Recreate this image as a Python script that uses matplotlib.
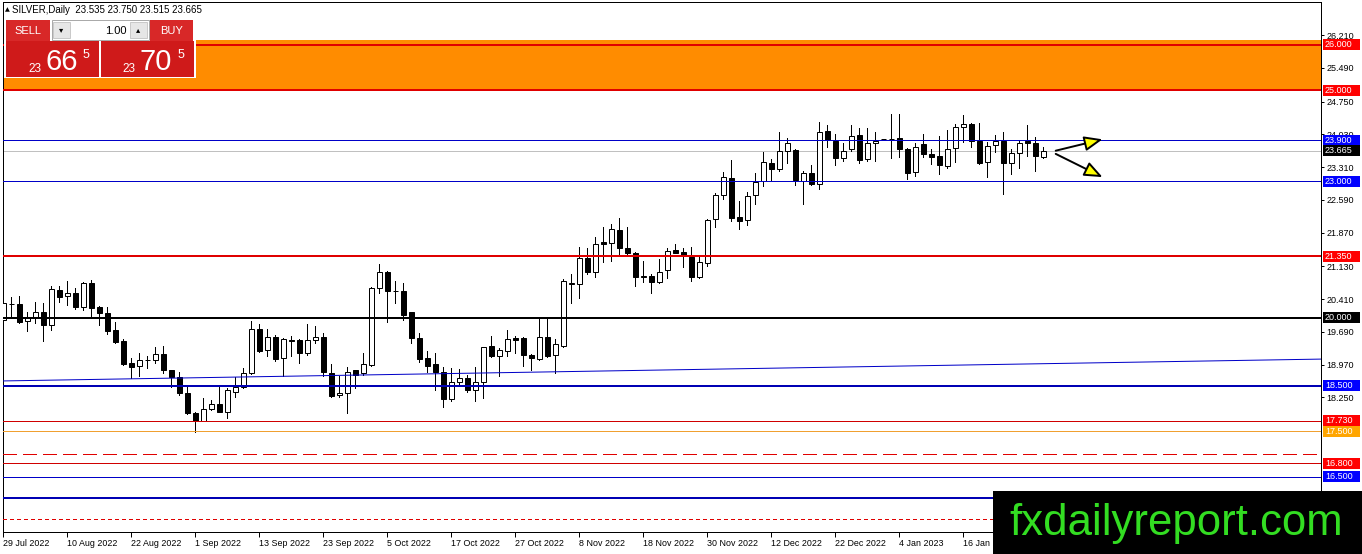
import matplotlib
matplotlib.use("Agg")
import matplotlib.pyplot as plt
from matplotlib.patches import Rectangle
from matplotlib import transforms
import numpy as np

plt.rcParams['font.family'] = ['Liberation Sans', 'DejaVu Sans']
plt.rcParams['lines.scale_dashes'] = False

# ---------------- data ----------------
opens = [19.95, 20.30, 20.30, 19.93, 20.02, 20.12, 19.85, 20.61, 20.48, 20.55,
         20.24, 20.76, 20.24, 20.10, 19.73, 19.49, 19.00, 18.94, 19.06, 19.07,
         19.20, 18.84, 18.70, 18.35, 17.91, 17.74, 17.99, 18.10, 17.93, 18.37,
         18.48, 18.79, 19.75, 19.29, 19.57, 19.11, 19.51, 19.51, 19.22, 19.51,
         19.57, 18.79, 18.29, 18.34, 18.84, 18.78, 18.96, 20.65, 21.01, 20.58,
         20.59, 20.12, 19.55, 19.11, 18.98, 18.81, 18.21, 18.59, 18.67, 18.41,
         18.59, 19.38, 19.16, 19.27, 19.55, 19.55, 19.18, 19.09, 19.57, 19.17,
         19.38, 20.75, 20.73, 21.31, 21.00, 21.66, 21.64, 21.93, 21.53, 21.42,
         20.90, 20.92, 20.79, 21.05, 21.49, 21.44, 21.34, 20.89, 21.20, 22.16,
         22.70, 23.06, 22.21, 22.15, 22.70, 23.00, 23.39, 23.26, 23.67, 23.69,
         23.01, 23.17, 22.93, 24.10, 23.89, 23.50, 23.70, 24.02, 23.48, 23.83,
         23.92, 23.92, 23.94, 23.70, 23.20, 23.82, 23.59, 23.55, 23.34, 23.72,
         24.20, 24.25, 23.88, 23.42, 23.80, 23.88, 23.39, 23.61, 23.89, 23.85,
         23.535]
highs = [20.40, 20.46, 20.48, 20.13, 20.35, 20.32, 20.70, 20.70, 20.81, 20.65,
         20.79, 20.83, 20.26, 20.24, 19.91, 19.53, 19.11, 19.23, 19.16, 19.36,
         19.38, 18.85, 18.81, 18.47, 17.93, 18.23, 18.19, 18.48, 18.45, 18.69,
         18.89, 19.93, 19.86, 19.75, 19.62, 19.55, 19.60, 19.53, 19.86, 19.81,
         19.67, 18.98, 18.72, 18.91, 18.85, 19.22, 20.67, 21.18, 21.03, 20.81,
         20.76, 20.13, 19.66, 19.27, 19.23, 18.91, 18.89, 18.87, 18.74, 18.92,
         19.36, 19.60, 19.33, 19.73, 19.60, 19.57, 19.20, 19.99, 19.99, 19.53,
         20.84, 20.96, 21.56, 21.54, 21.77, 21.99, 22.06, 22.18, 22.00, 21.44,
         21.25, 20.96, 21.28, 21.54, 21.62, 21.53, 21.56, 21.38, 22.16, 22.75,
         23.21, 23.47, 22.57, 22.77, 23.19, 23.65, 23.48, 24.09, 23.96, 23.70,
         23.22, 23.36, 24.31, 24.24, 24.04, 23.83, 24.24, 24.16, 24.16, 24.07,
         23.93, 24.48, 24.48, 23.72, 23.83, 24.04, 23.70, 23.99, 24.13, 24.26,
         24.46, 24.27, 24.27, 23.87, 24.02, 24.09, 23.71, 23.91, 24.24, 23.98,
         23.750]
lows = [19.75, 20.02, 19.88, 19.71, 19.88, 19.49, 19.73, 20.35, 20.28, 20.18,
        20.17, 20.00, 19.85, 19.64, 19.44, 18.96, 18.67, 18.72, 18.89, 19.01,
        18.79, 18.47, 18.29, 17.88, 17.49, 17.72, 17.97, 17.92, 17.79, 18.26,
        18.45, 18.76, 19.25, 19.16, 19.05, 18.72, 19.16, 19.01, 19.18, 19.45,
        18.72, 18.26, 18.26, 17.91, 18.45, 18.74, 18.94, 20.55, 19.91, 20.32,
        19.96, 19.45, 19.03, 18.80, 18.40, 18.03, 18.18, 18.52, 18.37, 18.18,
        18.23, 19.14, 18.72, 19.16, 19.23, 18.94, 18.84, 19.07, 19.14, 18.78,
        19.36, 20.33, 20.44, 20.96, 20.90, 21.23, 21.25, 21.38, 21.39, 20.70,
        20.79, 20.54, 20.76, 20.87, 21.42, 21.11, 20.81, 20.87, 21.14, 22.00,
        22.60, 22.13, 21.96, 22.04, 22.49, 22.90, 23.03, 23.22, 23.39, 22.92,
        22.49, 22.92, 22.82, 23.76, 23.36, 23.45, 23.67, 23.41, 23.45, 23.44,
        23.91, 23.50, 23.53, 23.05, 23.11, 23.53, 23.37, 23.16, 23.30, 23.43,
        23.87, 23.76, 23.38, 23.10, 23.65, 22.71, 23.16, 23.28, 23.55, 23.23,
        23.515]
closes = [20.32, 20.31, 19.91, 19.99, 20.12, 19.84, 20.62, 20.46, 20.54, 20.24,
          20.76, 20.21, 20.10, 19.71, 19.47, 18.98, 18.92, 19.07, 19.08, 19.20,
          18.84, 18.70, 18.35, 17.91, 17.74, 17.99, 18.10, 17.93, 18.40, 18.48,
          18.79, 19.75, 19.27, 19.57, 19.09, 19.53, 19.48, 19.22, 19.51, 19.57,
          18.81, 18.28, 18.34, 18.81, 18.74, 18.98, 20.65, 21.01, 20.59, 20.59,
          20.07, 19.55, 19.09, 18.94, 18.81, 18.21, 18.59, 18.67, 18.41, 18.59,
          19.35, 19.16, 19.29, 19.53, 19.51, 19.18, 19.11, 19.57, 19.16, 19.42,
          20.81, 20.77, 21.31, 21.00, 21.61, 21.63, 21.94, 21.53, 21.42, 20.90,
          20.91, 20.79, 21.01, 21.47, 21.43, 21.38, 20.89, 21.22, 22.15, 22.70,
          23.10, 22.20, 22.13, 22.68, 22.99, 23.42, 23.26, 23.67, 23.85, 23.03,
          23.17, 22.93, 24.07, 23.91, 23.50, 23.67, 23.99, 23.47, 23.83, 23.89,
          23.92, 23.93, 23.70, 23.17, 23.75, 23.59, 23.54, 23.35, 23.70, 24.20,
          24.25, 23.88, 23.41, 23.78, 23.88, 23.41, 23.61, 23.85, 23.85, 23.56,
          23.665]

date_labels = ['29 Jul 2022', '10 Aug 2022', '22 Aug 2022', '1 Sep 2022', '13 Sep 2022',
               '23 Sep 2022', '5 Oct 2022', '17 Oct 2022', '27 Oct 2022', '8 Nov 2022',
               '18 Nov 2022', '30 Nov 2022', '12 Dec 2022', '22 Dec 2022', '4 Jan 2023',
               '16 Jan 2023']
date_step = 8

price_ticks = [26.21, 25.49, 24.75, 24.03, 23.31, 22.59, 21.87, 21.13, 20.41, 19.69, 18.97, 18.25]

# labelled horizontal levels: value, line colour, line width (px), label colour
level_values = [26.0, 25.0, 23.9, 23.0, 21.35, 20.0, 18.5, 17.73, 17.5, 16.8, 16.5]
level_colors = ['#E00000', '#E00000', '#0000C8', '#0000C8', '#E00000', '#000000',
                '#0000B4', '#D00000', '#F0A030', '#D00000', '#0000C8']
level_widths = [2, 2, 1, 1, 2, 2, 2, 1, 1, 1, 1]
label_colors = ['#FF0000', '#FF0000', '#0000FF', '#0000FF', '#FF0000', '#000000',
                '#0000FF', '#FF0000', '#FFA500', '#FF0000', '#0000FF']
bid_price = 23.665

zone_low, zone_high = 25.0, 26.10
extra_solid = 16.04      # thick blue, unlabeled
extra_dashed = 17.0      # red long dashes
extra_dotted = 15.57     # red short dashes
trend_x = [0.0, 164.7]
trend_y = [18.61, 19.09]

arrow_start = [(131.55, 23.67), (131.55, 23.60)]
arrow_end = [(137.4, 23.92), (137.4, 23.09)]

# ---------------- figure ----------------
W, H = 1362, 554
fig = plt.figure(figsize=(W / 100, H / 100), dpi=100)
fig.patch.set_facecolor('white')

left_px, right_px, top_px, bot_px = 3, 1321, 2, 532
ax = fig.add_axes([left_px / W, 1 - bot_px / H, (right_px - left_px) / W, (bot_px - top_px) / H])
ax.set_facecolor('white')

n = len(opens)
x = np.arange(n)
ax.set_xlim(-0.0375, 164.71)
ax.set_ylim(15.29, 26.938)

PX = 0.72  # points per pixel

# zone
ax.axhspan(zone_low, zone_high, color='#FF8C00', zorder=1, lw=0)

# candles
o = np.array(opens); c = np.array(closes); h = np.array(highs); l = np.array(lows)
ax.vlines(x, l, h, color='black', lw=1 * PX, zorder=3, antialiased=False)
bull = c >= o
bw = 0.62
ax.bar(x[bull], (c - o)[bull], bottom=o[bull], width=bw, facecolor='white',
       edgecolor='black', lw=1 * PX, zorder=4)
ax.bar(x[~bull], (o - c)[~bull], bottom=c[~bull], width=bw, facecolor='black',
       edgecolor='black', lw=1 * PX, zorder=4)

# lines
for v, col, w in zip(level_values, level_colors, level_widths):
    ax.axhline(v, color=col, lw=w * PX, zorder=5, antialiased=False)
ax.axhline(bid_price, color='#C0C0C0', lw=1 * PX, zorder=2, antialiased=False)
ax.axhline(extra_solid, color='#0000B4', lw=2 * PX, zorder=5, antialiased=False)
ax.axhline(extra_dashed, color='#E00000', lw=1 * PX, zorder=5, dashes=(10, 5), antialiased=False)
ax.axhline(extra_dotted, color='#E00000', lw=1 * PX, zorder=5, dashes=(2.5, 2.5), antialiased=False)
ax.plot(trend_x, trend_y, color='#0000C8', lw=1 * PX, zorder=5)

# arrows
for s, e in zip(arrow_start, arrow_end):
    ax.annotate('', xy=e, xytext=s,
                arrowprops=dict(arrowstyle='-|>,head_length=1.1,head_width=0.45',
                                fc='#FFFF00', ec='black', lw=1.4, shrinkA=0, shrinkB=0),
                zorder=6)

# spines
for sp in ax.spines.values():
    sp.set_color('black')
    sp.set_linewidth(1 * PX)

# y axis on right
ax.yaxis.tick_right()
ax.set_yticks(price_ticks)
ax.set_yticklabels(['%.3f' % t for t in price_ticks])
ax.tick_params(axis='y', length=3 * PX, width=1 * PX, pad=2, labelsize=6.5, colors='black')

# x axis ticks
xt = [i * date_step for i in range(len(date_labels))]
ax.set_xticks(xt)
ax.set_xticklabels([''] * len(xt))
ax.tick_params(axis='x', length=5 * PX, width=1 * PX, direction='out')
tr = transforms.offset_copy(ax.get_xaxis_transform(), fig=fig, x=-0.5, y=-11, units='dots')
for pos, lab in zip(xt, date_labels):
    ax.text(pos, 0, lab, transform=tr, ha='left', va='center', fontsize=6.4, color='black')

# coloured price labels
ytr = transforms.blended_transform_factory(ax.transAxes, ax.transData)
axw = right_px - left_px
bx0 = (1322.5 - left_px) / axw
bx1 = (1360 - left_px) / axw
bh = 11 / 45.5
lab_vals = level_values + [bid_price]
lab_cols = label_colors + ['#000000']
for v, col in zip(lab_vals, lab_cols):
    ax.add_patch(Rectangle((bx0, v - bh / 2), bx1 - bx0, bh, transform=ytr, facecolor=col,
                           edgecolor='none', clip_on=False, zorder=10))
    ax.text((1325 - left_px) / axw, v, '%.3f' % v, transform=ytr, ha='left', va='center',
            fontsize=6.5, color='white', clip_on=False, zorder=11)

# ---------------- trading panel (figure pixels) ----------------
def fx(px):
    return px / W

def fy(py):
    return 1 - py / H

def frect(x0, y0, x1, y1, **kw):
    fig.patches.append(Rectangle((fx(x0), fy(y1)), fx(x1) - fx(x0), fy(y0) - fy(y1),
                                 transform=fig.transFigure, **kw))

def ftext(px, py, s, **kw):
    fig.text(fx(px), fy(py), s, **kw)

ftext(5, 10, '\u25b2', fontsize=4.5, ha='left', va='center', family='DejaVu Sans')
ftext(12, 10, 'SILVER,Daily  23.535 23.750 23.515 23.665', fontsize=7, ha='left', va='center')

frect(4, 18.5, 196, 78, facecolor='white', edgecolor='none', zorder=20)
red = '#CF1A1A'
frect(6, 20.5, 49.5, 40.5, facecolor='#D82828', edgecolor='none', zorder=21)
frect(150, 20.5, 193, 40.5, facecolor='#D82828', edgecolor='none', zorder=21)
frect(51.5, 20.5, 148.5, 39.5, facecolor='white', edgecolor='#A8A8A8', lw=0.7, zorder=21)
frect(53, 22, 70, 38, facecolor='#E6E6E6', edgecolor='#B8B8B8', lw=0.5, zorder=22)
frect(130, 22, 147, 38, facecolor='#E6E6E6', edgecolor='#B8B8B8', lw=0.5, zorder=22)
ftext(61.5, 30, '\u25be', fontsize=6, ha='center', va='center', family='DejaVu Sans', zorder=23)
ftext(138.5, 30, '\u25b4', fontsize=6, ha='center', va='center', family='DejaVu Sans', zorder=23)
ftext(127, 30.5, '1.00', fontsize=8, ha='right', va='center', zorder=23)
ftext(27.5, 31, 'SELL', fontsize=8, ha='center', va='center', color='white', zorder=23)
ftext(171.5, 31, 'BUY', fontsize=8, ha='center', va='center', color='white', zorder=23)
frect(9, 40.8, 46, 41.4, facecolor='#F0A0A0', edgecolor='none', zorder=22)
frect(153, 40.8, 190, 41.4, facecolor='#F0A0A0', edgecolor='none', zorder=22)
frect(6, 41.5, 99, 76.5, facecolor=red, edgecolor='none', zorder=21)
frect(101, 41.5, 193.5, 76.5, facecolor=red, edgecolor='none', zorder=21)
ftext(28, 72, '23', fontsize=8.5, ha='left', va='baseline', color='white', zorder=23)
ftext(45.5, 69.5, '66', fontsize=21, ha='left', va='baseline', color='white', zorder=23)
ftext(82.5, 57.5, '5', fontsize=9, ha='left', va='baseline', color='white', zorder=23)
ftext(122.5, 72, '23', fontsize=8.5, ha='left', va='baseline', color='white', zorder=23)
ftext(139.5, 69.5, '70', fontsize=21, ha='left', va='baseline', color='white', zorder=23)
ftext(177.5, 57.5, '5', fontsize=9, ha='left', va='baseline', color='white', zorder=23)

# ---------------- watermark ----------------
frect(993, 491, 1362, 554, facecolor='black', edgecolor='none', zorder=30)
ftext(1009, 535, 'fxdailyreport.com', fontsize=31.5, ha='left', va='baseline',
      color='#33DD22', zorder=31)

fig.savefig('out.png', dpi=100)
